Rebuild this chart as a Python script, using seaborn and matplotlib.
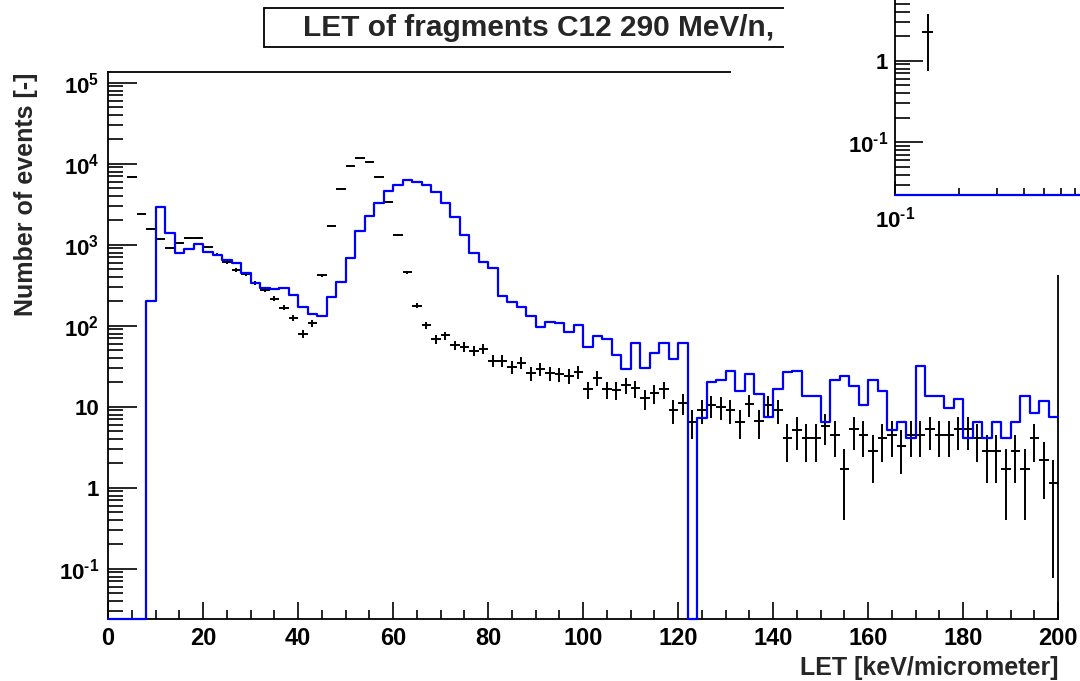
import numpy as np
import pandas as pd
import matplotlib
matplotlib.use("Agg")
import matplotlib.pyplot as plt
from matplotlib.patches import Polygon
from matplotlib.lines import Line2D
from matplotlib.ticker import (MultipleLocator, LogLocator, FixedLocator,
                               FuncFormatter, NullFormatter)
import seaborn as sns

# ---------------------------------------------------------------- data
# LET binning: 100 bins of 2 keV/um between 0 and 200
let_edges = list(range(0, 201, 2))
let_centers = [e + 1 for e in let_edges[:-1]]

# simulated spectrum (blue outline), one value per 2 keV/um bin
sim_counts = np.array([
    0, 0, 0, 0, 204, 2950, 1393, 794, 885, 1021,
    806, 746, 642, 589, 452, 334, 292, 281, 292, 241,
    172, 139, 131, 228, 344, 692, 1476, 2280, 3300, 4650,
    5460, 6290, 5890, 5460, 4440, 3300, 2180, 1320, 794, 616,
    520, 233, 195, 169, 131, 97, 112, 108, 83, 102,
    55, 75, 68, 43, 29, 61, 30, 45.5, 61, 39,
    61, 0, 7.3, 20.4, 21.4, 27.5, 15.8, 25, 14.4, 7.4,
    16.6, 26.5, 27.5, 13.5, 13.5, 6.4, 21.4, 24, 18.2, 10.5,
    21.4, 15.8, 5.2, 6.4, 4.07, 32, 13.5, 13.5, 9.5, 12.4,
    4.07, 6.4, 4.07, 6.4, 4.07, 6.4, 13.5, 8.4, 11.7, 7.4,
])

# measured spectrum (black crosses), bins centred at 5, 7, ..., 199
meas_centers = np.arange(5, 200, 2)
meas_counts = np.array([
    6860, 2415, 1550, 1185, 918, 1058, 1200, 1200, 944, 753,
    607, 488, 432, 339, 276, 215, 167, 124, 80, 107,
    419, 1718, 4875, 9370, 11670, 10400, 6860, 3335, 1328, 456,
    177, 102, 68, 76, 57, 55, 49, 52, 37, 37,
    31, 35, 26, 29, 26, 25, 24, 27, 16.4, 22.8,
    16.4, 16, 18.5, 16.9, 12.7, 14.6, 16.4, 9.1, 11.2, 6.5,
    9.1, 10.5, 10, 9.1, 6.5, 10.7, 6.6, 10.5, 9.1, 4.1,
    5.2, 4.1, 4.1, 5.8, 4.5, 1.7, 5.25, 4.5, 2.8, 4.1,
    4.5, 3.3, 4.5, 4.5, 5.25, 4.5, 4.5, 5.25, 5.25, 4.1,
    2.8, 2.8, 1.7, 2.8, 1.7, 4.1, 2.2, 1.15,
])
meas_half_width = 1.0

# small log-log pad in the upper right corner
inset_edges = [0.1, 10.0]
inset_centers = [1.0]
inset_sim_counts = [0.0]
inset_meas_x = [0.142]
inset_meas_xlo = [0.134]
inset_meas_xhi = [0.151]
inset_meas_counts = [2.26]

title_text = "LET of fragments C12 290 MeV/n,"
x_title = "LET [keV/micrometer]"
y_title = "Number of events [-]"

# ---------------------------------------------------------------- style
sns.set_theme(style="ticks")
plt.rcParams["font.family"] = ["Liberation Sans", "DejaVu Sans"]
plt.rcParams["font.weight"] = "bold"
plt.rcParams["mathtext.fontset"] = "custom"
plt.rcParams["mathtext.rm"] = "Liberation Sans:bold"
plt.rcParams["mathtext.it"] = "Liberation Sans:bold"
plt.rcParams["mathtext.bf"] = "Liberation Sans:bold"
plt.rcParams["axes.linewidth"] = 1.3
plt.rcParams["axes.edgecolor"] = "black"

W, H = 1080, 681
BLUE = "#0000ff"
Y_MIN, Y_MAX = 10 ** -1.621, 10 ** 5.128
X_FS, Y_FS = 17, 16
HYPHEN = "\u2010"


def px_to_fig(x, y):
    return x / W, 1 - y / H


def log_label(v, pos):
    e = int(round(np.log10(v)))
    if e == 0:
        return "1"
    if e == 1:
        return "10"
    if e < 0:
        return "$10^{" + HYPHEN + str(-e) + "}$"
    return "$10^{" + str(e) + "}$"


fig = plt.figure(figsize=(W / 100, H / 100), dpi=100)
fig.patch.set_facecolor("white")

# ---------------------------------------------------------------- main frame
ax = fig.add_axes([108 / W, 1 - 619 / H, 950 / W, (619 - 72.3) / H])
ax.set_facecolor("white")

sim_df = pd.DataFrame({"let": let_centers,
                       "n": np.where(sim_counts > 0, sim_counts, Y_MIN)})
sns.histplot(data=sim_df, x="let", weights="n", bins=let_edges, element="step",
             fill=False, color=BLUE, linewidth=1.6, ax=ax)
for ln in ax.lines:
    ln.set_clip_on(False)
    ln.set_zorder(4)

ax.errorbar(meas_centers, meas_counts, xerr=meas_half_width,
            yerr=np.sqrt(meas_counts), fmt="none", ecolor="black",
            elinewidth=1.4, capsize=0, zorder=3)

ax.set_yscale("log")
ax.set_xlim(0, 200)
ax.set_ylim(Y_MIN, Y_MAX)

ax.xaxis.set_major_locator(MultipleLocator(20))
ax.xaxis.set_minor_locator(MultipleLocator(5))
ax.yaxis.set_major_locator(FixedLocator([10.0 ** k for k in range(-1, 6)]))
ax.yaxis.set_minor_locator(LogLocator(base=10, subs=np.arange(2, 10), numticks=20))
ax.yaxis.set_major_formatter(FuncFormatter(log_label))
ax.yaxis.set_minor_formatter(NullFormatter())

ax.tick_params(axis="both", which="both", direction="in", top=False, right=False,
               width=1.2, colors="black")
ax.tick_params(axis="x", which="major", length=12, pad=5.5, labelsize=X_FS)
ax.tick_params(axis="x", which="minor", length=6.5)
ax.tick_params(axis="y", which="major", length=21, pad=6.5, labelsize=Y_FS)
ax.tick_params(axis="y", which="minor", length=11)
for lab in ax.get_xticklabels() + ax.get_yticklabels():
    lab.set_fontweight("bold")

ax.set_xlabel(x_title, fontsize=18, fontweight="bold", loc="right")
ax.xaxis.set_label_coords(1.0, (619 - 656) / (619 - 72.3))
ax.set_ylabel(y_title, fontsize=18, fontweight="bold", loc="top")
ax.yaxis.set_label_coords((38 - 108) / 950, 1.0)

# ---------------------------------------------------------------- title box
bx0, bx1, by0, by1 = 263.5, 784, 8.3, 47.3
for (xa, ya), (xb, yb) in [((bx0, by0), (bx1, by0)), ((bx0, by1), (bx1, by1)),
                           ((bx0, by0), (bx0, by1))]:
    p0, p1 = px_to_fig(xa, ya), px_to_fig(xb, yb)
    fig.add_artist(Line2D([p0[0], p1[0]], [p0[1], p1[1]], color="black",
                          lw=1.3, transform=fig.transFigure, zorder=3))
tx, ty = px_to_fig(303, 35.5)
fig.text(tx, ty, title_text, fontsize=21.5, fontweight="bold", ha="left",
         va="baseline", zorder=3)

# white pad region of the small panel
pad_pts = [px_to_fig(*p) for p in [(731, 55), (731, 275), (1080, 275), (1080, 0),
                                   (784, 0), (784, 55)]]
fig.add_artist(Polygon(pad_pts, closed=True, facecolor="white", edgecolor="none",
                       transform=fig.transFigure, zorder=4))

# ---------------------------------------------------------------- small log-log pad
axi = fig.add_axes([895 / W, 1 - 195 / H, 427 / W, 297.5 / H], zorder=5)
axi.set_facecolor("white")
inset_floor = 10 ** -1.646
inset_df = pd.DataFrame({"let": inset_centers,
                         "n": np.where(np.asarray(inset_sim_counts) > 0,
                                       inset_sim_counts, inset_floor)})
sns.histplot(data=inset_df, x="let", weights="n", bins=inset_edges, element="step",
             fill=False, color=BLUE, linewidth=1.6, ax=axi)
for ln in axi.lines:
    ln.set_clip_on(False)
    ln.set_zorder(4)
xi = np.asarray(inset_meas_x)
axi.errorbar(xi, inset_meas_counts,
             xerr=[xi - np.asarray(inset_meas_xlo), np.asarray(inset_meas_xhi) - xi],
             yerr=np.sqrt(inset_meas_counts), fmt="none", ecolor="black",
             elinewidth=1.4, capsize=0, zorder=3)
axi.set_xscale("log")
axi.set_yscale("log")
axi.set_xlim(0.1, 10)
axi.set_ylim(inset_floor, 100)
axi.set_xlabel("")
axi.set_ylabel("")
for side in ("top", "right"):
    axi.spines[side].set_visible(False)
axi.xaxis.set_major_locator(FixedLocator([0.1]))
axi.xaxis.set_minor_locator(LogLocator(base=10, subs=np.arange(2, 10), numticks=10))
axi.yaxis.set_major_locator(FixedLocator([0.1, 1.0]))
axi.yaxis.set_minor_locator(LogLocator(base=10, subs=np.arange(2, 10), numticks=10))
axi.xaxis.set_major_formatter(FuncFormatter(log_label))
axi.yaxis.set_major_formatter(FuncFormatter(log_label))
axi.xaxis.set_minor_formatter(NullFormatter())
axi.yaxis.set_minor_formatter(NullFormatter())
axi.tick_params(axis="both", which="both", direction="in", top=False, right=False,
                width=1.2, colors="black")
axi.tick_params(axis="x", which="major", length=10, pad=8.5, labelsize=Y_FS)
axi.tick_params(axis="x", which="minor", length=5)
axi.tick_params(axis="y", which="major", length=20, pad=5, labelsize=Y_FS)
axi.tick_params(axis="y", which="minor", length=11)

fig.savefig("out.png", dpi=100, facecolor="white")
